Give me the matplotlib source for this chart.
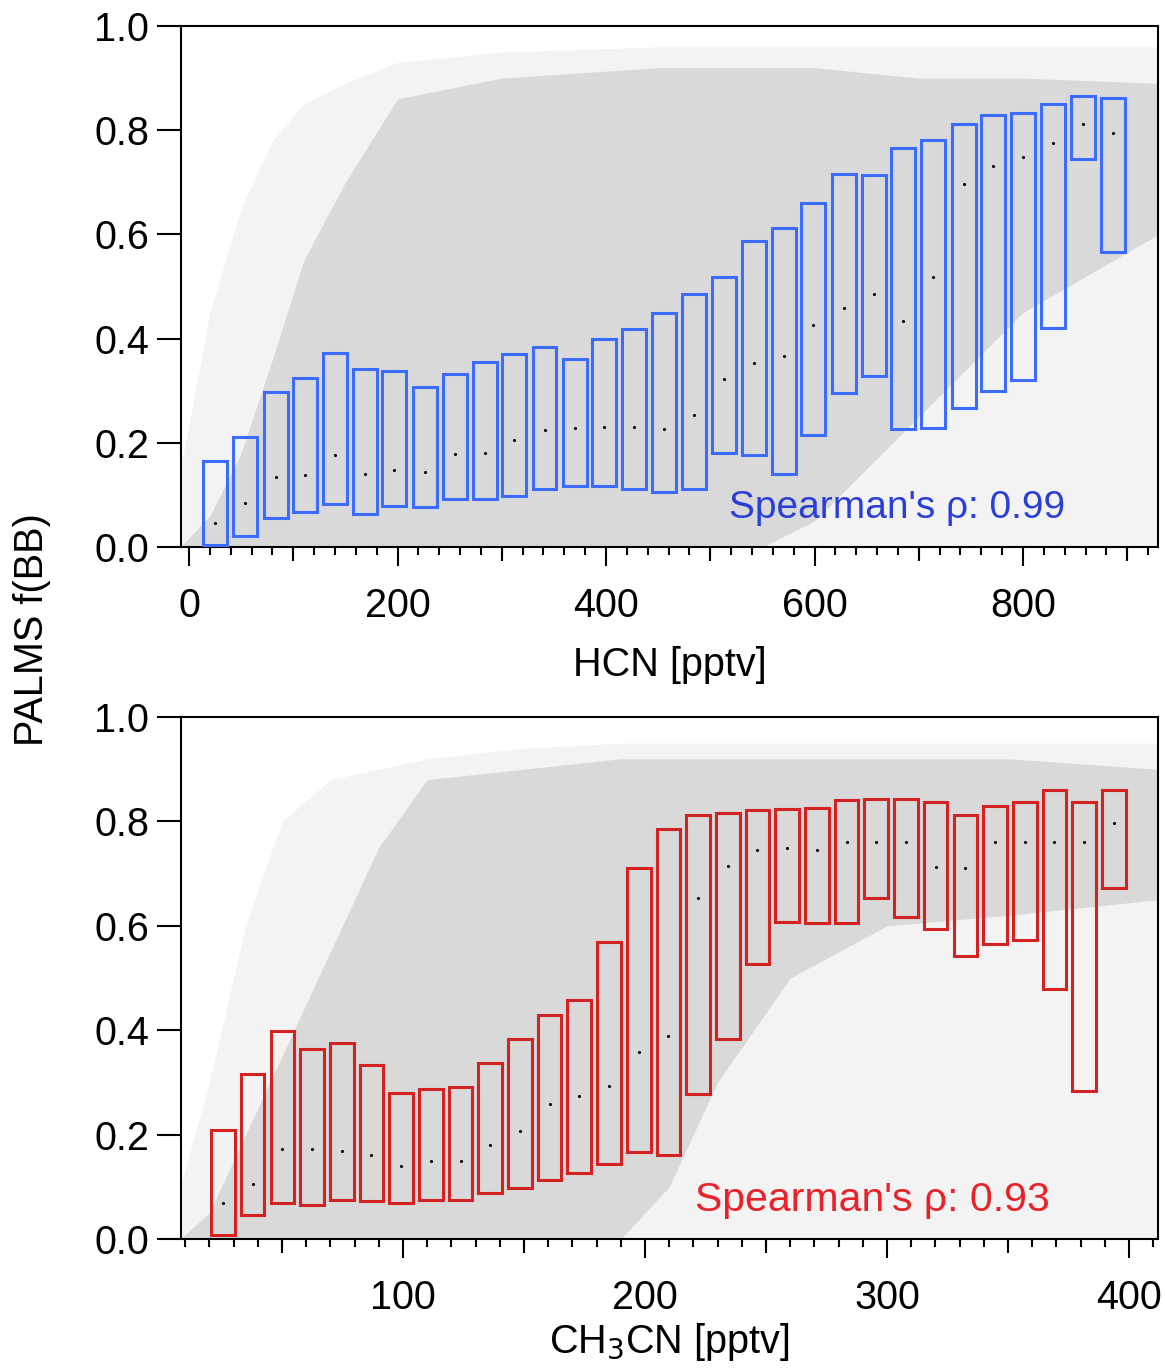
import numpy as np
import matplotlib
matplotlib.use("Agg")
import matplotlib.pyplot as plt
from matplotlib.ticker import MultipleLocator

plt.rcParams['font.family'] = ['Liberation Sans', 'DejaVu Sans']

# ---- HCN panel (top) ----
hcn_x = [25, 54, 83, 111, 140, 169, 197, 226, 255, 284, 312, 341, 370, 398, 427, 456,
         484, 513, 542, 571, 599, 628, 657, 685, 714, 743, 771, 800, 829, 858, 886]
hcn_q1 = [0.004, 0.022, 0.055, 0.067, 0.083, 0.064, 0.079, 0.077, 0.093, 0.093, 0.098,
          0.112, 0.117, 0.117, 0.112, 0.105, 0.112, 0.180, 0.177, 0.140, 0.215, 0.295,
          0.328, 0.226, 0.229, 0.267, 0.300, 0.321, 0.421, 0.744, 0.566]
hcn_q3 = [0.166, 0.212, 0.297, 0.325, 0.372, 0.342, 0.337, 0.308, 0.333, 0.355, 0.370,
          0.383, 0.361, 0.399, 0.418, 0.450, 0.485, 0.518, 0.587, 0.612, 0.660, 0.715,
          0.714, 0.765, 0.781, 0.811, 0.829, 0.833, 0.850, 0.866, 0.861]
hcn_med = [0.047, 0.084, 0.134, 0.138, 0.177, 0.141, 0.148, 0.143, 0.178, 0.181, 0.205,
           0.224, 0.228, 0.231, 0.231, 0.227, 0.253, 0.322, 0.353, 0.366, 0.426, 0.459,
           0.486, 0.434, 0.519, 0.696, 0.732, 0.749, 0.776, 0.812, 0.795]

# grey cloud of the individual data points (envelopes)
hcn_env_x = [-8, 20, 50, 80, 110, 150, 200, 300, 450, 550, 600, 650, 700, 800, 930]
hcn_sparse_hi = [0.15, 0.45, 0.65, 0.78, 0.85, 0.89, 0.93, 0.95, 0.96, 0.96, 0.96, 0.96, 0.96, 0.96, 0.96]
hcn_dense_hi = [0.0, 0.06, 0.18, 0.36, 0.55, 0.70, 0.86, 0.90, 0.92, 0.92, 0.92, 0.91, 0.90, 0.90, 0.89]
hcn_dense_lo = [0, 0, 0, 0, 0, 0, 0, 0, 0, 0, 0.05, 0.15, 0.25, 0.45, 0.60]

# ---- CH3CN panel (bottom) ----
ch3cn_x = [25.6, 37.9, 50.2, 62.4, 74.7, 87.0, 99.2, 111.5, 123.8, 136.1, 148.3, 160.6,
           172.9, 185.1, 197.4, 209.7, 221.9, 234.2, 246.5, 258.8, 271.0, 283.3, 295.6,
           307.8, 320.1, 332.4, 344.6, 356.9, 369.2, 381.5, 393.7]
ch3cn_q1 = [0.008, 0.046, 0.069, 0.066, 0.074, 0.072, 0.069, 0.074, 0.075, 0.089, 0.098,
            0.113, 0.126, 0.143, 0.167, 0.160, 0.277, 0.384, 0.527, 0.607, 0.605, 0.606,
            0.653, 0.617, 0.593, 0.543, 0.566, 0.572, 0.478, 0.284, 0.673]
ch3cn_q3 = [0.208, 0.316, 0.398, 0.364, 0.375, 0.333, 0.279, 0.287, 0.292, 0.337, 0.383,
            0.429, 0.458, 0.569, 0.710, 0.785, 0.812, 0.817, 0.822, 0.823, 0.825, 0.841,
            0.842, 0.842, 0.837, 0.812, 0.830, 0.838, 0.861, 0.838, 0.861]
ch3cn_med = [0.069, 0.105, 0.172, 0.172, 0.169, 0.160, 0.140, 0.150, 0.150, 0.180, 0.207,
             0.259, 0.274, 0.294, 0.359, 0.389, 0.653, 0.715, 0.746, 0.750, 0.746, 0.761,
             0.761, 0.760, 0.713, 0.711, 0.761, 0.760, 0.760, 0.761, 0.796]

ch3cn_env_x = [8, 20, 35, 50, 70, 90, 110, 150, 190, 210, 230, 260, 300, 350, 412]
ch3cn_sparse_hi = [0.10, 0.30, 0.60, 0.80, 0.88, 0.90, 0.92, 0.94, 0.95, 0.95, 0.95, 0.95, 0.95, 0.95, 0.95]
ch3cn_dense_hi = [0.0, 0.05, 0.20, 0.35, 0.55, 0.75, 0.88, 0.90, 0.92, 0.92, 0.92, 0.92, 0.92, 0.92, 0.90]
ch3cn_dense_lo = [0, 0, 0, 0, 0, 0, 0, 0, 0, 0.10, 0.30, 0.50, 0.60, 0.62, 0.65]

W, H = 1165, 1369
fig = plt.figure(figsize=(W / 100, H / 100), dpi=100)

def px_axes(left, top, right, bottom):
    return fig.add_axes([left / W, 1 - bottom / H, (right - left) / W, (bottom - top) / H])

ax1 = px_axes(181, 26, 1158, 547)
ax2 = px_axes(181, 717, 1158, 1239)

FS = 28.5
SPARSE = '#f3f3f3'
DENSE = '#d9d9d9'

def draw_panel(ax, ex, shi, dhi, dlo, x, q1, q3, med, width, box_col):
    ax.fill_between(ex, 0, shi, color=SPARSE, lw=0, zorder=0)
    ax.fill_between(ex, dlo, dhi, color=DENSE, lw=0, zorder=1)
    heights = np.array(q3) - np.array(q1)
    ax.bar(x, heights, bottom=q1, width=width, fill=False, edgecolor=box_col,
           linewidth=2.2, zorder=3)
    ax.scatter(x, med, s=5, color='black', zorder=4, linewidths=0)
    ax.set_ylim(0, 1.0)
    ax.set_yticks([0.0, 0.2, 0.4, 0.6, 0.8, 1.0])
    ax.set_yticklabels(['0.0', '0.2', '0.4', '0.6', '0.8', '1.0'])
    for s in ax.spines.values():
        s.set_linewidth(1.5)
    ax.tick_params(axis='y', direction='out', length=17, width=1.5, labelsize=FS, pad=6)
    ax.tick_params(axis='x', which='major', direction='out', length=14, width=1.5,
                   labelsize=FS, pad=15)
    ax.tick_params(axis='x', which='minor', direction='out', length=6, width=1.5)

draw_panel(ax1, hcn_env_x, hcn_sparse_hi, hcn_dense_hi, hcn_dense_lo,
           hcn_x, hcn_q1, hcn_q3, hcn_med, 23, '#3c6cff')
ax1.set_xlim(-7.7, 929.5)
ax1.set_xticks([0, 200, 400, 600, 800])
ax1.xaxis.set_minor_locator(MultipleLocator(20))
sec1 = ax1.secondary_xaxis('bottom')
sec1.set_xticks([100, 300, 500, 700, 900])
sec1.set_xticklabels([])
sec1.tick_params(direction='out', length=10, width=1.5)
sec1.spines['bottom'].set_visible(False)
ax1.set_xlabel('HCN [pptv]', fontsize=FS, labelpad=15)
ax1.text(0.905, 0.075, "Spearman's \u03c1: 0.99", transform=ax1.transAxes,
         ha='right', va='center', fontsize=28, color='#2a3fd8', zorder=5)

draw_panel(ax2, ch3cn_env_x, ch3cn_sparse_hi, ch3cn_dense_hi, ch3cn_dense_lo,
           ch3cn_x, ch3cn_q1, ch3cn_q3, ch3cn_med, 9.8, '#d42222')
ax2.set_xlim(8.3, 412)
ax2.set_xticks([100, 200, 300, 400])
ax2.xaxis.set_minor_locator(MultipleLocator(10))
sec2 = ax2.secondary_xaxis('bottom')
sec2.set_xticks([50, 150, 250, 350])
sec2.set_xticklabels([])
sec2.tick_params(direction='out', length=10, width=1.5)
sec2.spines['bottom'].set_visible(False)
ax2.set_xlabel('CH$_3$CN [pptv]', fontsize=FS, labelpad=3)
ax2.text(0.889, 0.075, "Spearman's \u03c1: 0.93", transform=ax2.transAxes,
         ha='right', va='center', fontsize=29.5, color='#e82228', zorder=5)

fig.text(32 / W, 1 - 630 / H, 'PALMS f(BB)', rotation=90, ha='center', va='center',
         fontsize=FS)

fig.savefig('out.png', dpi=100)
